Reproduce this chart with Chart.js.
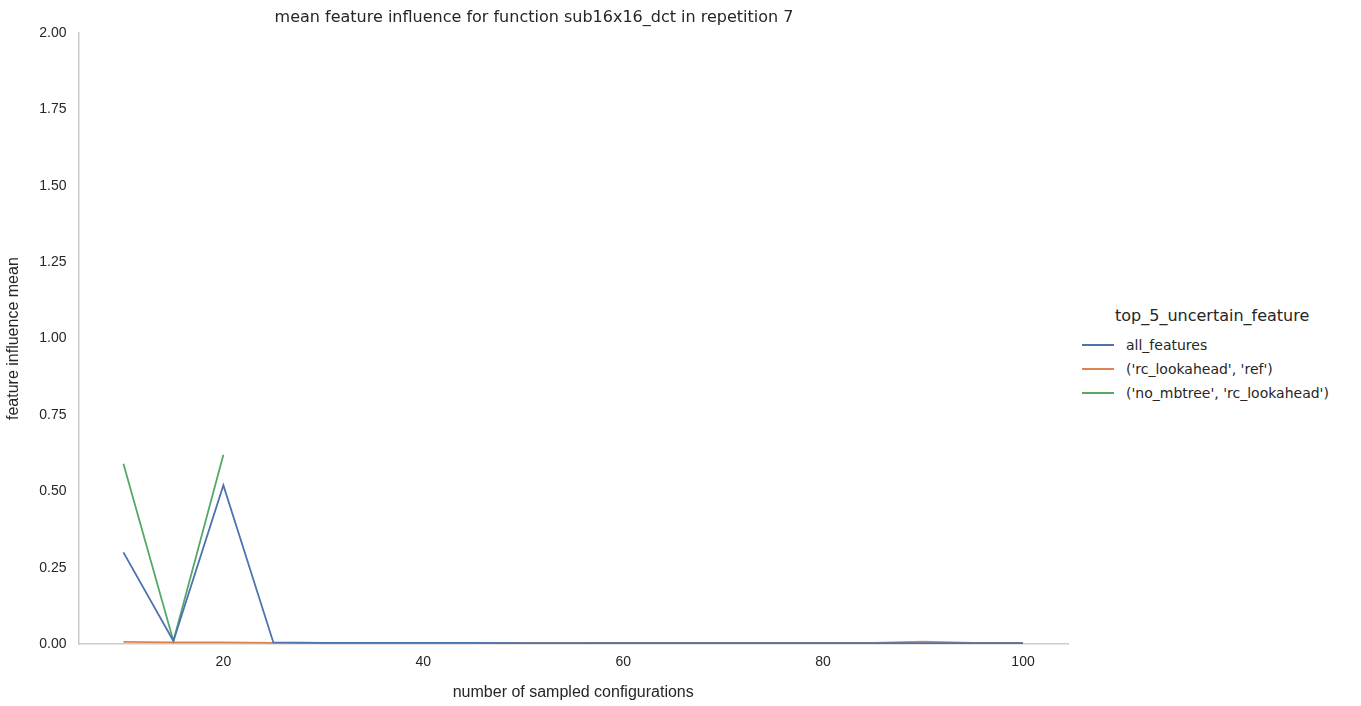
<!DOCTYPE html>
<html>
<head>
<meta charset="utf-8">
<script src="https://cdn.jsdelivr.net/npm/chart.js@4"></script>
<style>
body { margin: 0; background: #fff; font-family: "DejaVu Sans", sans-serif; }
#wrap { position: absolute; left: 0; top: 0; width: 1080px; height: 706px; }
#legend { position: absolute; left: 1082px; top: 306px; font-size: 14px; color: #262626; }
#legend .title { font-size: 16px; margin: 0 0 8px 33px; }
#legend .row { display: flex; align-items: center; height: 24px; }
#legend .sw { width: 32px; height: 2px; margin-right: 12px; }
</style>
</head>
<body>
<div id="wrap"><canvas id="c" width="1080" height="706"></canvas></div>
<div id="legend"><div class="title">top_5_uncertain_feature</div></div>
<script>
const samples = [10, 15, 20, 25, 30, 35, 40, 45, 50, 55, 60, 65, 70, 75, 80, 85, 90, 95, 100];
const all_features = [0.30, 0.01, 0.52, 0.005, 0.004, 0.004, 0.004, 0.004, 0.003, 0.003, 0.003, 0.003, 0.003, 0.003, 0.003, 0.003, 0.003, 0.003, 0.003];
const rc_lookahead_ref = [0.007, 0.005, 0.005, 0.004, 0.004, 0.004, 0.004, 0.004, 0.003, 0.003, 0.004, 0.004, 0.004, 0.004, 0.004, 0.004, 0.008, 0.004, 0.004];
const no_mbtree_rc_lookahead = [0.59, 0.01, 0.62, null, null, null, null, null, null, null, null, null, null, null, null, null, null, null, null];

const series = [
    { label: 'all_features', data: all_features, color: '#4c72b0' },
    { label: "('rc_lookahead', 'ref')", data: rc_lookahead_ref, color: '#dd8452' },
    { label: "('no_mbtree', 'rc_lookahead')", data: no_mbtree_rc_lookahead, color: '#55a868' }
];

let legend = document.getElementById('legend');
series.forEach(s => {
    let row = document.createElement('div');
    row.className = 'row';
    row.innerHTML = `<span class="sw" style="background:${s.color}"></span>${s.label}`;
    legend.appendChild(row);
});

new Chart(document.getElementById('c'), {
    type: 'line',
    data: {
        datasets: series.map(s => ({
            label: s.label,
            data: samples.map((x, i) => ({ x: x, y: s.data[i] })),
            borderColor: s.color,
            borderWidth: 1.8,
            pointRadius: 0,
            spanGaps: false,
            tension: 0
        }))
    },
    options: {
        responsive: false,
        animation: false,
        layout: { padding: { top: 0, right: 12, bottom: 0, left: 0 } },
        plugins: {
            legend: { display: false },
            title: {
                display: true,
                text: 'mean feature influence for function sub16x16_dct in repetition 7',
                color: '#262626',
                font: { size: 16, family: 'DejaVu Sans', weight: 'normal' },
                padding: { top: 8, bottom: 6 }
            }
        },
        scales: {
            x: {
                type: 'linear', min: 5.5, max: 104.5,
                afterBuildTicks: ax => { ax.ticks = [20, 40, 60, 80, 100].map(v => ({ value: v })); },
                grid: { display: false, drawTicks: false },
                border: { color: '#cccccc', width: 1.5 },
                ticks: { color: '#262626', font: { size: 14 }, padding: 10 },
                title: { display: true, text: 'number of sampled configurations', color: '#262626', font: { size: 16 }, padding: { top: 2 } }
            },
            y: {
                min: 0, max: 2,
                grid: { display: false, drawTicks: false },
                border: { color: '#cccccc', width: 1.5 },
                ticks: { stepSize: 0.25, color: '#262626', font: { size: 14 }, padding: 12, callback: v => v.toFixed(2) },
                title: { display: true, text: 'feature influence mean', color: '#262626', font: { size: 16 } }
            }
        }
    }
});
</script>
</body>
</html>
